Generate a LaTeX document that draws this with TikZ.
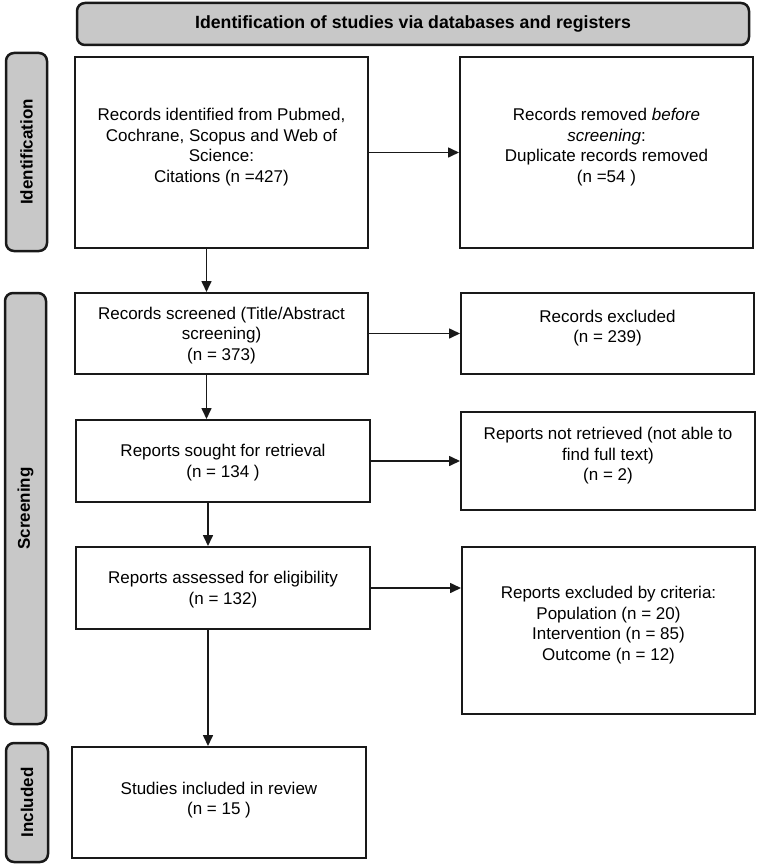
\documentclass[tikz,border=0pt]{standalone}
\usepackage{fontspec}
\setmainfont{Liberation Sans}
\usetikzlibrary{arrows.meta}
\definecolor{prgray}{RGB}{200,200,200}
\definecolor{prblack}{RGB}{25,25,25}

\begin{document}
\begin{tikzpicture}[x=1pt, y=-1pt,
  font=\fontsize{17}{20.5}\selectfont,
  box/.style={draw=prblack, line width=2pt, align=center, inner sep=0pt, text depth=0pt},
  bar/.style={draw=prblack, fill=prgray, line width=2.5pt, rounded corners=8pt, font=\fontsize{17}{20}\selectfont\bfseries},
  raised/.style={text depth=14pt},
  arr/.style={prblack, line width=1.6pt, -{Triangle[length=11pt, width=10pt]}}]
  \useasboundingbox (0,0) rectangle (756,867);
  \node[bar, minimum width=672, minimum height=42, font=\fontsize{17.7}{20}\selectfont\bfseries] (head) at (413,24) {Identification of studies via databases and registers};
  \node[bar, rotate=90, minimum width=198, minimum height=41] (idbar) at (26.5,152) {Identification};
  \node[bar, rotate=90, minimum width=431, minimum height=41] (scrbar) at (25.5,508.5) {Screening};
  \node[bar, rotate=90, minimum width=119, minimum height=42] (incbar) at (27,802.5) {Included};

  \node[box, raised, minimum width=293, minimum height=191] (recid) at (221.5,152.5) {Records identified from Pubmed,\\ Cochrane, Scopus and Web of\\ Science:\\ Citations (n =427)};
  \node[box, raised, minimum width=293, minimum height=191] (recrem) at (606.5,152.5) {Records removed \textit{before}\\ \textit{screening}:\\ Duplicate records removed\\ (n =54 )};
  \node[box, minimum width=293, minimum height=81] (recscr) at (221.5,333.5) {Records screened (Title/Abstract\\ screening)\\ (n = 373)};
  \node[box, raised, minimum width=293, minimum height=81] (recexc) at (607.5,333.5) {Records excluded\\ (n = 239)};
  \node[box, minimum width=294, minimum height=82] (rptsgt) at (223,461) {Reports sought for retrieval\\ (n = 134 )};
  \node[box, raised, minimum width=294, minimum height=98] (rptnr) at (608,461) {Reports not retrieved (not able to\\ find full text)\\ (n = 2)};
  \node[box, minimum width=294, minimum height=82] (rptass) at (223,588) {Reports assessed for eligibility\\ (n = 132)};
  \node[box, raised, minimum width=293, minimum height=167] (rptexc) at (608.5,630.5) {Reports excluded by criteria:\\ Population (n = 20)\\ Intervention (n = 85)\\ Outcome (n = 12)};
  \node[box, text depth=8.5pt, minimum width=294, minimum height=111] (incl) at (219,802.5) {Studies included in review\\ (n = 15 )};

  \draw[arr] (recid.east) -- (recid.east -| recrem.west);
  \draw[arr] (recscr.east) -- (recscr.east -| recexc.west);
  \draw[arr] (rptsgt.east) -- (rptsgt.east -| rptnr.west);
  \draw[arr] (rptass.east) -- (rptass.east -| rptexc.west);
  \draw[arr] ([xshift=-15pt]recid.south) -- ([xshift=-15pt]recid.south |- recscr.north);
  \draw[arr] ([xshift=-15pt]recscr.south) -- ([xshift=-15pt]recscr.south |- rptsgt.north);
  \draw[arr] ([xshift=-15pt]rptsgt.south) -- ([xshift=-15pt]rptsgt.south |- rptass.north);
  \draw[arr] ([xshift=-15pt]rptass.south) -- ([xshift=-15pt]rptass.south |- incl.north);
\end{tikzpicture}
\end{document}
